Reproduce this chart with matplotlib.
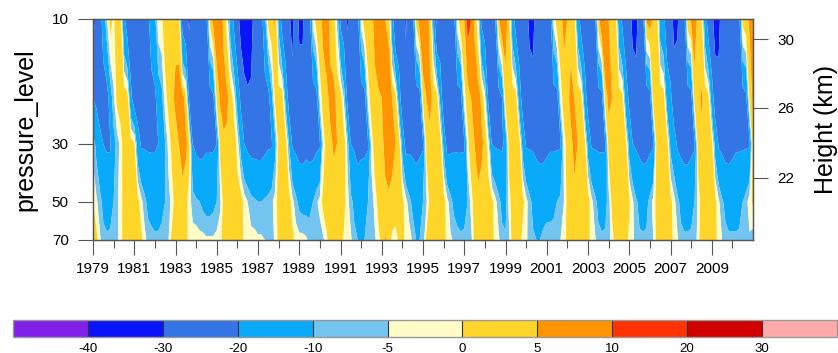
import numpy as np
import matplotlib
matplotlib.use("Agg")
import matplotlib.pyplot as plt
from matplotlib.colors import ListedColormap, BoundaryNorm
from matplotlib.ticker import NullLocator, FixedLocator

plt.rcParams['font.family'] = ['Liberation Sans', 'DejaVu Sans']
plt.rcParams['axes.unicode_minus'] = False

# ---------------- data (bimonthly samples, 1979.0 ... 2011.0) ----------------
pressure = [10, 20, 30, 50, 70]          # hPa

u10 = [
    -33, -28, -25, -15, -6, 3,      # 1979
    -1, 3, 3, -18, -25, -25,        # 1980
    -25, -25, -25, -24, -22, -15,   # 1981
    -12, -2, -1, 3, 4, 4,           # 1982
    4, 2, -24, -28, -31, -26,       # 1983
    -25, -25, -25, -22, 2, 7,       # 1984
    8, 8, 4, -2, -14, -22,          # 1985
    -27, -33, -35, -34, -32, -28,   # 1986
    -25, -24, -12, 2, 4, 5.5,       # 1987
    -12, -24, -27, -29, -32, -27,   # 1988
    -31, -31, -26, -24, -3, 3,      # 1989
    4, 6, 7, 4, 3, -6,              # 1990
    -22, -25, -31, -27, -26, -24,   # 1991
    -3, 3, 4, 4, 6, 10,             # 1992
    8, 5, 4, -15, -31, -26,         # 1993
    -26, -31, -26, -25, 2, 8,       # 1994
    10, 7, 4, -12, -32, -27,        # 1995
    -25, -25, -25, -24, -2, 4,      # 1996
    5, 12, 10, 4, -3, -22,          # 1997
    -25, -25, -25, -20, 4, 11,      # 1998
    7, 3, -15, -24, -25, -25,       # 1999
    -27, -32, -32, -27, -25, -25,   # 2000
    -25, -24, -3, 3, 4, 6,          # 2001
    5, 4, 3, -15, -24, -25,         # 2002
    -25, -25, -24, 3, 11, 10,       # 2003
    5, 4, 3, -15, -22, -25,         # 2004
    -27, -32, -32, -27, -24, 6,     # 2005
    8, 4, 3, -14, -18, -25,         # 2006
    -26, -32, -31, -26, -24, 3,     # 2007
    6, 7, 4, 2, -15, -25,           # 2008
    -28, -33, -32, -27, -25, -25,   # 2009
    -25, -25, -22, 2, 4, 5.5,       # 2010
    7]

u20 = [
    -20, -22, -26, -26, -25, -15,   # 1979
    -6, 2, 3, 4, 3, -18,            # 1980
    -25, -25, -25, -25, -25, -24,   # 1981
    -22, -15, -12, -2, 2, 4,        # 1982
    6, 8, 7, 3, -22, -26,           # 1983
    -26, -26, -25, -25, -25, -22,   # 1984
    2, 5.5, 7, 6, 3, -2,            # 1985
    -14, -22, -27, -29, -29, -28,   # 1986
    -27, -26, -25, -24, -12, 2,     # 1987
    3, 4, -12, -24, -27, -27,       # 1988
    -27, -27, -27, -26, -26, -24,   # 1989
    -3, 3, 4, 6, 6, 4,              # 1990
    3, -6, -22, -25, -27, -27,      # 1991
    -26, -24, -3, 3, 4, 4,          # 1992
    5, 8, 8, 5, 3, -15,             # 1993
    -26, -26, -26, -27, -26, -25,   # 1994
    2, 5, 6, 4, 3, -12,             # 1995
    -27, -27, -25, -25, -25, -24,   # 1996
    -2, 3, 5, 9, 8, 4,              # 1997
    -3, -22, -25, -25, -25, -20,    # 1998
    3, 5, 4, 3, -15, -24,           # 1999
    -25, -25, -27, -27, -27, -27,   # 2000
    -25, -25, -25, -24, -3, 3,      # 2001
    4, 6, 5, 4, 3, -15,             # 2002
    -24, -25, -25, -25, -24, 3,     # 2003
    6, 5, 4, 3, 2, -15,             # 2004
    -22, -25, -27, -27, -27, -27,   # 2005
    -24, 4, 5, 4, 3, -14,           # 2006
    -18, -25, -26, -27, -27, -26,   # 2007
    -24, 3, 4, 5.5, 4, 2,           # 2008
    -15, -25, -27, -27, -27, -27,   # 2009
    -25, -25, -25, -25, -22, 2,     # 2010
    6]

u30 = [
    -7, -12, -16, -20, -21, -21,    # 1979
    -13, -8, -3, 3, 3, 3,           # 1980
    1, -15, -21, -21, -21, -21,     # 1981
    -21, -20, -13, -10, -3, 2,      # 1982
    3, 5, 6, 6, 3, -20,             # 1983
    -22, -23, -22, -21, -21, -21,   # 1984
    -20, 2, 4, 4, 4, 3,             # 1985
    -2, -13, -20, -22, -23, -23,    # 1986
    -23, -23, -22, -21, -21, -12,   # 1987
    2, 4, 4, -10, -21, -22,         # 1988
    -23, -23, -22, -23, -23, -22,   # 1989
    -21, -3, 3, 4, 5.5, 5,          # 1990
    4, 3, -6, -20, -21, -23,        # 1991
    -22, -22, -21, -3, 3, 4,        # 1992
    4, 6, 8, 7, 5, 4,               # 1993
    -13, -23, -22, -22, -23, -22,   # 1994
    -21, 2, 4, 5, 4, 3,             # 1995
    -12, -23, -22, -21, -21, -21,   # 1996
    -21, -2, 4, 5, 8, 6,            # 1997
    4, -3, -20, -21, -21, -21,      # 1998
    -18, 3, 4, 4, 3, -13,           # 1999
    -21, -21, -21, -22, -23, -23,   # 2000
    -22, -21, -21, -21, -21, -3,    # 2001
    3, 4, 6, 5, 4, 3,               # 2002
    -13, -21, -21, -21, -21, -21,   # 2003
    3, 4, 4, 3, 3, 2,               # 2004
    -13, -20, -21, -22, -23, -23,   # 2005
    -22, -21, 3, 4, 4, 3,           # 2006
    -12, -16, -21, -22, -23, -23,   # 2007
    -22, -21, 3, 4, 4, 3,           # 2008
    2, -13, -21, -22, -23, -23,     # 2009
    -22, -21, -21, -21, -21, -21,   # 2010
    4]

u50 = [
    0, -4, -8, -12, -13, -12,       # 1979
    -10, -6, -3, 3, 3, 3,           # 1980
    3, 2, -3, -8, -12, -13,         # 1981
    -13, -13, -12, -10, -7, -3,     # 1982
    3, 4, 4, 2, -3, -7,             # 1983
    -9, -10, -12, -13, -13, -12,    # 1984
    -10, -6, 2, 3, 4, 3,            # 1985
    3, 3, -2, -5, -8, -9,           # 1986
    -10, -10, -9, -8, -6, -3,       # 1987
    3, 3, 3, 3, -3, -8,             # 1988
    -12, -13, -13, -12, -10, -6,    # 1989
    -3, 2, 3, 4, 3, 3,              # 1990
    3, 2, -3, -8, -12, -13,         # 1991
    -13, -12, -10, -8, -3, 2,       # 1992
    3, 4, 4, 3, 3, 2,               # 1993
    2, -3, -8, -12, -13, -12,       # 1994
    -10, -6, 2, 3, 4, 3,            # 1995
    3, -3, -8, -12, -13, -13,       # 1996
    -12, -10, -3, 3, 3, 3,          # 1997
    3, 3, 2, -3, -8, -12,           # 1998
    -13, -3, 3, 4, 3, 2,            # 1999
    -3, -8, -12, -13, -13, -12,     # 2000
    -12, -12, -12, -10, -8, -5,     # 2001
    2, 3, 4, 4, 3, 3,               # 2002
    3, -3, -8, -12, -13, -12,       # 2003
    -8, 2, 4, 4, 3, 3,              # 2004
    1, -4, -9, -12, -13, -12,       # 2005
    -8, -3, 2, 4, 3, 3,             # 2006
    2, -3, -8, -12, -13, -13,       # 2007
    -12, -10, -4, 3, 4, 3,          # 2008
    3, 2, -4, -9, -12, -13,         # 2009
    -13, -13, -12, -10, -7, -2,     # 2010
    1]

u70 = [
    3, 2, -4, -8, -9, -9,           # 1979
    -8, -6, -3, 3, 3, 3,            # 1980
    3, 3, 2, -3, -7, -8,            # 1981
    -9, -9, -8, -7, -5, 2,          # 1982
    3, 3, 3, 2, -2, -3,             # 1983
    -2, -3, -3, -4, -4, -4,         # 1984
    -3, -2, 3, 3, 4, 3,             # 1985
    3, 2, -1, -2, -3, -3,           # 1986
    -4, -4, -5, -6, -7, -4,         # 1987
    2, 3, 3, 3, 2, -2,              # 1988
    -3, -3, -4, -7, -9, -9,         # 1989
    -8, -6, -1, 3, 3, 3,            # 1990
    3, -1, -3, -4, -8, -10,         # 1991
    -10, -10, -9, -8, -6, -2,       # 1992
    2, 5.5, 3, -1, -2, 1,           # 1993
    1, -1, -2, -6, -10, -10,        # 1994
    -9, 2, 3, 3, 4, 3,              # 1995
    3, -2, -4, -6, -8, -9,          # 1996
    -9, -8, -7, 2, 3, 3,            # 1997
    3, 3, 3, -2, -4, -8,            # 1998
    -9, -7, 3, 3, 3, -2,            # 1999
    -4, -7, -9, -10, -10, -9,       # 2000
    -8, -8, -7, -7, -5, -3,         # 2001
    2, 3, 3, 3, 3, 3,               # 2002
    2, -2, -4, -8, -9, -9,          # 2003
    -7, -3, 3, 3, 3, 3,             # 2004
    -2, -4, -7, -9, -9, -9,         # 2005
    -8, -5, 2, 3, 3, 3,             # 2006
    3, -2, -4, -8, -9, -9,          # 2007
    -9, -8, -3, 3, 3, 3,            # 2008
    3, 2, -3, -5, -8, -9,           # 2009
    -9, -9, -9, -8, -8, -6,         # 2010
    -8]

contour_levels = [-40, -30, -20, -10, -5, 0, 5, 10, 20, 30]
fill_colors = ['#8020E8', '#0A14FA', '#3375E5', '#0AAAFA', '#73C5F0',
               '#FFFCC8', '#FFD52A', '#FF9500', '#FF3300', '#D00000', '#FFAAAA']
year_ticks = list(range(1979, 2010, 2))
p_ticks = [10, 30, 50, 70]
height_km = [30, 26, 22]
height_p = [11.97, 21.88, 40.47]   # standard-atmosphere pressure of those heights

# ---------------- figure ----------------
W, H = 838, 353
fig = plt.figure(figsize=(W / 100, H / 100), dpi=100)
ax = fig.add_axes([93 / W, 1 - 240 / H, 660 / W, 221 / H])

Z = np.array([u10, u20, u30, u50, u70], dtype=float)
t = 1979 + np.arange(Z.shape[1]) / 6.0

cmap = ListedColormap(fill_colors)
norm = BoundaryNorm(contour_levels, ncolors=cmap.N, extend='both')
cs = ax.contourf(t, pressure, Z, levels=contour_levels, cmap=cmap, norm=norm,
                 extend='both', antialiased=True)

ax.set_yscale('log')
ax.set_ylim(70, 10)
ax.set_xlim(1979, 2011)
frame_col = '#555555'
for s in ax.spines.values():
    s.set_color(frame_col)
    s.set_linewidth(0.9)

ax.yaxis.set_major_locator(FixedLocator(p_ticks))
ax.yaxis.set_minor_locator(NullLocator())
ax.set_yticklabels([str(v) for v in p_ticks])
ax.set_xticks(year_ticks)
ax.set_xticklabels([str(v) for v in year_ticks])
ax.set_xticks(list(range(1980, 2011)), minor=True)
ax.tick_params(axis='both', which='major', direction='out', length=10.5,
               width=0.8, color=frame_col, labelsize=11)
ax.tick_params(axis='x', which='major', pad=5)
ax.tick_params(axis='y', which='major', pad=7)
ax.tick_params(axis='x', which='minor', direction='out', length=5.5,
               width=0.8, color=frame_col)
ax.tick_params(top=False, right=False)

ax2 = ax.twinx()
ax2.set_yscale('log')
ax2.set_ylim(70, 10)
ax2.yaxis.set_major_locator(FixedLocator(height_p))
ax2.yaxis.set_minor_locator(NullLocator())
ax2.set_yticklabels([str(v) for v in height_km])
ax2.tick_params(axis='y', which='major', direction='out', length=10.5,
                width=0.8, color=frame_col, labelsize=11, pad=7)
for s in ax2.spines.values():
    s.set_color(frame_col)
    s.set_linewidth(0.9)

fig.text(25 / W, 1 - 129.5 / H, 'pressure_level', rotation=90,
         ha='center', va='center', fontsize=18)
fig.text(826 / W, 1 - 129.5 / H, 'Height (km)', rotation=90,
         ha='center', va='center', fontsize=18)

# ---------------- colorbar ----------------
cax = fig.add_axes([13 / W, 1 - 337 / H, 824 / W, 17 / H])
cb = fig.colorbar(cs, cax=cax, orientation='horizontal', ticks=contour_levels,
                  extendrect=True, extendfrac=1 / 9, drawedges=True,
                  spacing='uniform')
cb.outline.set_edgecolor('#999999')
cb.outline.set_linewidth(1.0)
cb.dividers.set_color('#333333')
cb.dividers.set_linewidth(0.8)
cb.ax.tick_params(length=0, labelsize=9.5, pad=4)
cb.ax.set_xticklabels([str(v) for v in contour_levels])

fig.savefig('out.png', dpi=100)
